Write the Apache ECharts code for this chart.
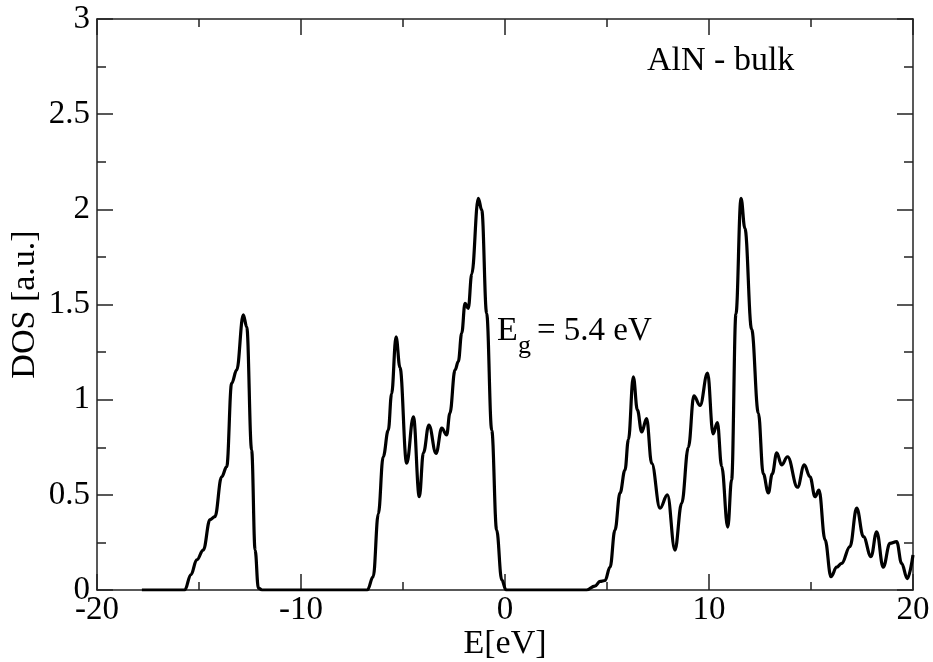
<!DOCTYPE html>
<html>
<head>
<meta charset="utf-8">
<script src="https://cdn.jsdelivr.net/npm/echarts@6/dist/echarts.min.js"></script>
<style>
html,body{margin:0;padding:0;background:#fff;}
#chart{width:933px;height:662px;}
</style>
</head>
<body>
<div id="chart"></div>
<script>
// Energy (eV) and DOS (a.u.)
var energy = [
  -17.8, -15.7, -15.4, -15.11, -14.79, -14.46, -14.22, -13.89, -13.64, -13.40, -13.15, -12.83, -12.66, -12.42, -12.25, -12.09, -11.9,
  -6.75, -6.46, -6.21, -5.97, -5.72, -5.56, -5.34, -5.15, -4.82, -4.49, -4.20, -4.00, -3.73, -3.38, -3.10, -2.86, -2.70, -2.45, -2.29, -2.12, -1.96, -1.80, -1.63, -1.31, -1.14, -0.90, -0.65, -0.41, -0.16, 0.05,
  4.0, 4.4, 4.66, 4.90, 5.15, 5.39, 5.64, 5.88, 6.05, 6.29, 6.49, 6.70, 6.94, 7.19, 7.60, 7.96, 8.33, 8.66, 8.99, 9.26, 9.56, 9.93, 10.20, 10.41, 10.62, 10.92, 11.11, 11.32, 11.57, 11.76,
  12.09, 12.42, 12.66, 12.91, 13.10, 13.32, 13.56, 13.85, 14.34, 14.67, 14.95, 15.20, 15.39, 15.69, 15.98, 16.26, 16.50, 16.91, 17.24, 17.57, 17.94, 18.22, 18.54, 18.87, 19.20, 19.44, 19.72, 20.0
];
var dos = [
  0, 0, 0.08, 0.158, 0.21, 0.37, 0.385, 0.595, 0.648, 1.086, 1.156, 1.445, 1.383, 0.736, 0.21, 0.01, 0,
  0, 0.07, 0.40, 0.70, 0.84, 1.03, 1.33, 1.17, 0.666, 0.91, 0.49, 0.72, 0.867, 0.718, 0.85, 0.815, 0.93, 1.156, 1.20, 1.35, 1.506, 1.48, 1.66, 2.058, 1.997, 1.454, 0.84, 0.315, 0.053, 0,
  0, 0.02, 0.045, 0.05, 0.12, 0.315, 0.51, 0.63, 0.79, 1.12, 0.946, 0.83, 0.90, 0.666, 0.43, 0.50, 0.21, 0.455, 0.75, 1.02, 0.97, 1.14, 0.82, 0.88, 0.65, 0.33, 0.58, 1.45, 2.058, 1.90,
  1.37, 0.93, 0.61, 0.51, 0.61, 0.72, 0.657, 0.70, 0.54, 0.657, 0.595, 0.49, 0.525, 0.263, 0.07, 0.12, 0.14, 0.228, 0.43, 0.28, 0.175, 0.306, 0.12, 0.245, 0.254, 0.14, 0.06, 0.184
];
var xTitle = 'E[eV]';
var yTitle = 'DOS [a.u.]';
var plotLabel = 'AlN - bulk';
var gapLabelMain = 'E';
var gapLabelSub = 'g';
var gapLabelRest = '= 5.4 eV';

var points = energy.map(function (e, i) { return [e, dos[i]]; });

var FONT = '"Liberation Serif", "Times New Roman", serif';
var axisColor = '#222';

function xAxisCfg(pos, showLabel) {
  return {
    type: 'value', position: pos, min: -20, max: 20, interval: 10,
    name: showLabel ? xTitle : '', nameLocation: 'middle', nameGap: 37, nameMoveOverlap: false,
    nameTextStyle: { fontFamily: FONT, fontSize: 34, color: '#000' },
    axisLine: { show: true, onZero: false, lineStyle: { color: axisColor, width: 1.5 } },
    axisTick: { show: true, inside: true, length: 16, lineStyle: { color: axisColor, width: 1.5 } },
    minorTick: { show: true, splitNumber: 2, length: 8, lineStyle: { color: axisColor, width: 1.5 } },
    axisLabel: { show: showLabel, margin: 4, fontFamily: FONT, fontSize: 33, color: '#000' },
    splitLine: { show: false }
  };
}
function yAxisCfg(pos, showLabel) {
  return {
    type: 'value', position: pos, min: 0, max: 3, interval: 0.5,
    name: showLabel ? yTitle : '', nameLocation: 'middle', nameGap: 55, nameMoveOverlap: false,
    nameTextStyle: { fontFamily: FONT, fontSize: 34, color: '#000' },
    axisLine: { show: true, onZero: false, lineStyle: { color: axisColor, width: 1.5 } },
    axisTick: { show: true, inside: true, length: 16, lineStyle: { color: axisColor, width: 1.5 } },
    minorTick: { show: true, splitNumber: 2, length: 9, lineStyle: { color: axisColor, width: 1.5 } },
    axisLabel: { show: showLabel, margin: 7, fontFamily: FONT, fontSize: 33, color: '#000' },
    splitLine: { show: false }
  };
}

var chart = echarts.init(document.getElementById('chart'), null, { renderer: 'canvas' });
chart.setOption({
  animation: false,
  backgroundColor: '#fff',
  textStyle: { fontFamily: FONT },
  grid: { left: 97, right: 20, top: 19, bottom: 72, containLabel: false, outerBoundsMode: 'none' },
  xAxis: [xAxisCfg('bottom', true), xAxisCfg('top', false)],
  yAxis: [yAxisCfg('left', true), yAxisCfg('right', false)],
  series: [{
    type: 'line',
    data: points,
    xAxisIndex: 0, yAxisIndex: 0,
    showSymbol: false,
    smooth: 0.4,
    smoothMonotone: 'x',
    lineStyle: { color: '#000', width: 3.2 },
    itemStyle: { color: '#000' }
  }],
  graphic: [
    { type: 'text', x: 647, y: 61, style: { text: plotLabel, font: '34px ' + FONT, fill: '#000', verticalAlign: 'middle', align: 'left' } },
    { type: 'text', x: 497, y: 331, style: { text: gapLabelMain, font: '34px ' + FONT, fill: '#000', verticalAlign: 'middle', align: 'left' } },
    { type: 'text', x: 518, y: 346, style: { text: gapLabelSub, font: '26px ' + FONT, fill: '#000', verticalAlign: 'middle', align: 'left' } },
    { type: 'text', x: 537, y: 331, style: { text: gapLabelRest, font: '33px ' + FONT, fill: '#000', verticalAlign: 'middle', align: 'left' } }
  ]
});
</script>
</body>
</html>
